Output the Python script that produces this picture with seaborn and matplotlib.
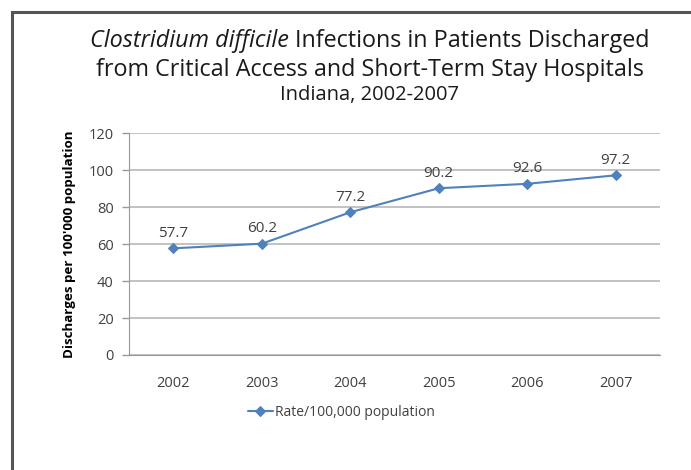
import numpy as np
import pandas as pd
import matplotlib
matplotlib.use("Agg")
import matplotlib.pyplot as plt
from matplotlib.patches import Rectangle
import seaborn as sns

# data
years = ["2002", "2003", "2004", "2005", "2006", "2007"]
rates = [57.7, 60.2, 77.2, 90.2, 92.6, 97.2]
series_name = "Rate/100,000 population"
y_ticks = [0, 20, 40, 60, 80, 100, 120]

df = pd.DataFrame({"Year": years, "Rate": rates})
df["pos"] = np.arange(len(years))

sns.set_style("white")
plt.rcParams["font.family"] = ["Open Sans", "DejaVu Sans"]

line_color = "#4F81BD"
text_color = "#404040"

fig = plt.figure(figsize=(6.91, 4.70), dpi=100)
ax = fig.add_axes([0.1867, 0.2447, 0.7685, 0.472])

sns.lineplot(data=df, x="pos", y="Rate", ax=ax, color=line_color, marker="D",
             markersize=5, markeredgecolor=line_color, linewidth=1.5, label=series_name)

# data labels
for p, r in zip(df["pos"], df["Rate"]):
    ax.text(p, r + 4, f"{r:.1f}", ha="center", va="bottom", fontsize=11, color=text_color)

ax.set_xlim(-0.5, len(years) - 0.5)
ax.set_ylim(0, 120)
ax.set_yticks(y_ticks)
ax.set_yticklabels([str(t) for t in y_ticks], fontsize=10.5, color=text_color)
ax.set_xticks(df["pos"])
ax.set_xticklabels(years, fontsize=10.5, color=text_color)
ax.set_xticks(np.arange(-0.5, len(years)), minor=True)
ax.tick_params(axis="x", which="major", length=0, pad=15)
ax.tick_params(axis="x", which="minor", length=5, color="#999999", width=1)
ax.tick_params(axis="y", which="major", length=5, color="#999999", width=1, pad=6, left=True)
ax.grid(axis="y", color="#b8b8b8", linewidth=1.2)
ax.set_axisbelow(True)
for side in ["top", "right"]:
    ax.spines[side].set_visible(False)
ax.spines["left"].set_color("#999999")
ax.spines["bottom"].set_color("#999999")
ax.set_xlabel("")
ax.set_ylabel("Discharges per 100'000 population", fontsize=9.6, fontweight="bold",
              color="black", labelpad=9)

leg = ax.legend(loc="upper center", bbox_to_anchor=(0.40, -0.17), frameon=False,
                fontsize=10, handlelength=1.8, handletextpad=0.2)
for t in leg.get_texts():
    t.set_color(text_color)

# title, first line is italic + regular, centred as a whole
cx = 0.535
title_size = 16.8
t_it = fig.text(cx, 0.912, "Clostridium difficile ", fontsize=title_size, ha="left",
                va="center", style="italic", color="#1a1a1a")
t_rg = fig.text(cx, 0.912, "Infections in Patients Discharged", fontsize=title_size,
                ha="left", va="center", color="#1a1a1a")
renderer = fig.canvas.get_renderer()
w_it = t_it.get_window_extent(renderer).width / fig.bbox.width
w_rg = t_rg.get_window_extent(renderer).width / fig.bbox.width
left = cx - (w_it + w_rg) / 2
t_it.set_x(left)
t_rg.set_x(left + w_it)
fig.text(cx, 0.851, "from Critical Access and Short-Term Stay Hospitals", fontsize=title_size,
         ha="center", va="center", color="#1a1a1a")
fig.text(cx, 0.798, "Indiana, 2002-2007", fontsize=14.5, ha="center", va="center",
         color="#1a1a1a")

# outer frame
fig.patches.append(Rectangle((12 / 691, -0.05), 1.1, 1 - 12 / 470 + 0.05,
                             transform=fig.transFigure, fill=False, edgecolor="#555555",
                             linewidth=2.2, clip_on=False))

fig.savefig("out.png", dpi=100)
